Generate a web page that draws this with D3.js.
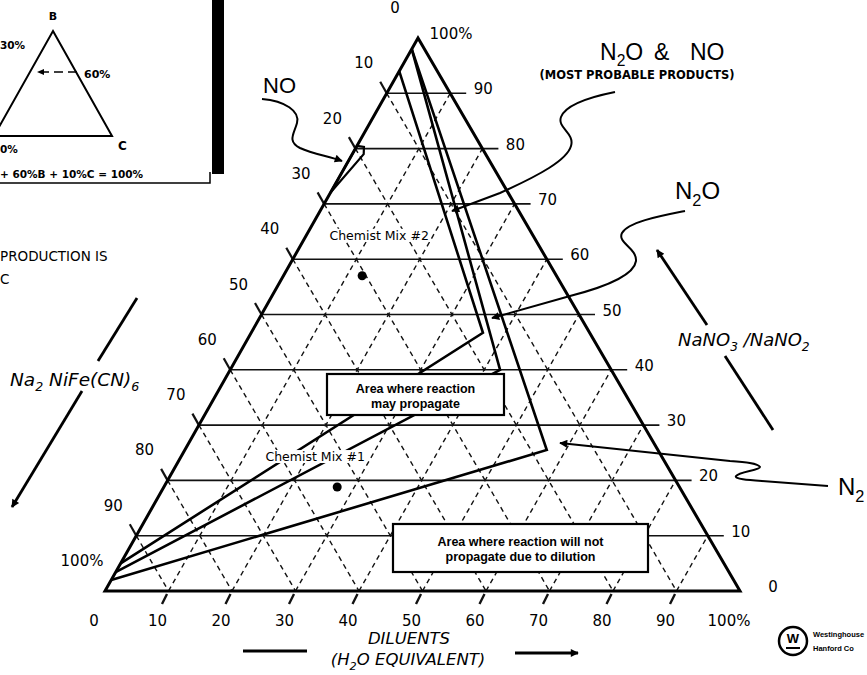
<!DOCTYPE html>
<html>
<head>
<meta charset="utf-8">
<script src="https://cdn.jsdelivr.net/npm/d3@7"></script>
<style>
body { margin: 0; background: #fff; }
svg { display: block; font-family: "DejaVu Sans", sans-serif; }
</style>
</head>
<body>
<svg id="chart" width="867" height="675"></svg>
<script>
// DATA (percent values)
// points are {d: diluents %, n: NaNO3/NaNO2 %}; Na2NiFe(CN)6 = 100 - d - n
var tickValues = [0, 10, 20, 30, 40, 50, 60, 70, 80, 90, 100];
var gridValues = [10, 20, 30, 40, 50, 60, 70, 80, 90];

// product boundaries
var lineA = [{d: 0, n: 94}, {d: 36.5, n: 46.7}, {d: 0, n: 5}];
var lineB = [{d: 0, n: 98}, {d: 42.5, n: 40}, {d: 0, n: 3.4}];
var lineC = [{d: 0, n: 98}, {d: 57, n: 25.5}, {d: 0, n: 2}];
var noRegion = [{d: 0, n: 80.5}, {d: 1.2, n: 80.3}, {d: 1.8, n: 79}, {d: 0, n: 72}];

var mixNames = ["Chemist Mix #2", "Chemist Mix #1"];
var mixDiluents = [12.4, 27.3];
var mixNitrate = [57, 18.8];

// SCALES
var xScale = d3.scaleLinear().domain([0, 100]).range([105, 740]);
var yScale = d3.scaleLinear().domain([0, 100]).range([591, 38]);
var apexShift = (418 - 105) / (740 - 105);

function px(p) { return xScale(p.d + p.n * apexShift); }
function py(p) { return yScale(p.n); }

var svg = d3.select("#chart");
var line = d3.line().x(px).y(py);

svg.append("defs").append("marker")
    .attr("id", "head")
    .attr("viewBox", "0 0 10 10")
    .attr("refX", 9).attr("refY", 5)
    .attr("markerWidth", 13).attr("markerHeight", 8)
    .attr("markerUnits", "userSpaceOnUse")
    .attr("orient", "auto")
    .append("path").attr("d", "M0,0 L10,5 L0,10 z");

//GRID
var grid = svg.append("g").attr("stroke", "#111").attr("fill", "none");

// constant Na2NiFe(CN)6, parallel to right edge
grid.selectAll("line.acon").data(gridValues).enter().append("line")
    .attr("class", "acon")
    .attr("x1", function(k) { return px({d: 0, n: 100 - k}); })
    .attr("y1", function(k) { return py({d: 0, n: 100 - k}); })
    .attr("x2", function(k) { return px({d: 100 - k, n: 0}); })
    .attr("y2", function(k) { return py({d: 100 - k, n: 0}); })
    .attr("stroke-width", 1.4)
    .attr("stroke-dasharray", "5,4");

// constant diluents, parallel to left edge
grid.selectAll("line.dcon").data(gridValues).enter().append("line")
    .attr("class", "dcon")
    .attr("x1", function(k) { return px({d: k, n: 0}); })
    .attr("y1", function(k) { return py({d: k, n: 0}); })
    .attr("x2", function(k) { return px({d: k, n: 100 - k}); })
    .attr("y2", function(k) { return py({d: k, n: 100 - k}); })
    .attr("stroke-width", 1.4)
    .attr("stroke-dasharray", "5,4");

// constant NaNO3/NaNO2, horizontal, running out as the right ticks
grid.selectAll("line.ncon").data(gridValues).enter().append("line")
    .attr("class", "ncon")
    .attr("x1", function(k) { return px({d: 0, n: k}); })
    .attr("y1", function(k) { return py({d: 0, n: k}); })
    .attr("x2", function(k) { return px({d: 100 - k, n: k}) + 16; })
    .attr("y2", function(k) { return py({d: 100 - k, n: k}); })
    .attr("stroke-width", 1.6);

// left ticks
grid.selectAll("line.lt").data(gridValues).enter().append("line")
    .attr("x1", function(k) { return px({d: 0, n: 100 - k}); })
    .attr("y1", function(k) { return py({d: 0, n: 100 - k}); })
    .attr("x2", function(k) { return px({d: 0, n: 100 - k}) - 6.5; })
    .attr("y2", function(k) { return py({d: 0, n: 100 - k}) - 11.5; })
    .attr("stroke-width", 2.2);

// bottom ticks
grid.selectAll("line.bt").data(gridValues).enter().append("line")
    .attr("x1", function(k) { return px({d: k, n: 0}) - 1.5; })
    .attr("y1", function(k) { return py({d: k, n: 0}) + 3; })
    .attr("x2", function(k) { return px({d: k, n: 0}) - 6.5; })
    .attr("y2", function(k) { return py({d: k, n: 0}) + 13; })
    .attr("stroke-width", 2.4);

// outline
svg.append("path")
    .datum([{d: 0, n: 0}, {d: 100, n: 0}, {d: 0, n: 100}])
    .attr("d", function(d) { return line(d) + "Z"; })
    .attr("fill", "none").attr("stroke", "#000")
    .attr("stroke-width", 3).attr("stroke-linejoin", "miter");

// BOUNDARIES
svg.selectAll("path.bound").data([lineA, lineB, lineC]).enter().append("path")
    .attr("class", "bound")
    .attr("d", line)
    .attr("fill", "none").attr("stroke", "#000")
    .attr("stroke-width", 2.6).attr("stroke-linejoin", "miter");

svg.append("path").datum(noRegion)
    .attr("d", function(d) { return line(d) + "Z"; })
    .attr("fill", "none").attr("stroke", "#000").attr("stroke-width", 2.2);

// AXIS LABELS
var labels = svg.append("g").attr("font-size", 15).attr("text-anchor", "middle")
    .attr("dominant-baseline", "central");

labels.selectAll("text.la").data(tickValues).enter().append("text")
    .attr("x", function(k) { return px({d: 0, n: 100 - k}) - 23; })
    .attr("y", function(k) { return py({d: 0, n: 100 - k}) - 30; })
    .text(function(k) { return k === 100 ? "100%" : k; });

labels.selectAll("text.lb").data(tickValues).enter().append("text")
    .attr("x", function(k) { return px({d: k, n: 0}) - 11; })
    .attr("y", function(k) { return py({d: k, n: 0}) + 30; })
    .text(function(k) { return k === 100 ? "100%" : k; });

labels.selectAll("text.lr").data(tickValues).enter().append("text")
    .attr("x", function(k) { return px({d: 100 - k, n: k}) + 33; })
    .attr("y", function(k) { return py({d: 100 - k, n: k}) - 4; })
    .text(function(k) { return k === 100 ? "100%" : k; });

// CHEMIST MIXES
var mixes = mixNames.map(function(name, i) { return {name: name, d: mixDiluents[i], n: mixNitrate[i]}; });
var mixLabelShift = [[17, -36], [-22, -26]];
var mixG = svg.selectAll("g.mix").data(mixes).enter().append("g");
mixG.append("rect").attr("fill", "#fff");
mixG.append("text")
    .attr("x", function(d, i) { return px(d) + mixLabelShift[i][0]; })
    .attr("y", function(d, i) { return py(d) + mixLabelShift[i][1]; })
    .attr("text-anchor", "middle")
    .attr("font-size", 12.5)
    .text(function(d) { return d.name; });
mixG.each(function() {
    var b = d3.select(this).select("text").node().getBBox();
    d3.select(this).select("rect")
        .attr("x", b.x - 2).attr("y", b.y + 1).attr("width", b.width + 4).attr("height", b.height - 2);
});
mixG.append("circle")
    .attr("cx", px).attr("cy", py).attr("r", 4.5).attr("fill", "#000");

// BOXES
var boxes = [
    {x: 327, y: 374, w: 177, h: 41, lines: ["Area where reaction", "may propagate"]},
    {x: 393, y: 524, w: 255, h: 48, lines: ["Area where reaction will not", "propagate due to dilution"]}
];
var boxG = svg.selectAll("g.box").data(boxes).enter().append("g");
boxG.append("rect")
    .attr("x", function(d) { return d.x; }).attr("y", function(d) { return d.y; })
    .attr("width", function(d) { return d.w; }).attr("height", function(d) { return d.h; })
    .attr("fill", "#fff").attr("stroke", "#000").attr("stroke-width", 2.2);
boxG.each(function(d) {
    var g = d3.select(this);
    d.lines.forEach(function(t, i) {
        g.append("text")
            .attr("x", d.x + d.w / 2)
            .attr("y", d.y + d.h / 2 - 2 + i * 15)
            .attr("text-anchor", "middle")
            .attr("font-family", "Liberation Sans, sans-serif")
            .attr("font-weight", "bold")
            .attr("font-size", 12.5)
            .text(t);
    });
});

// PRODUCT LABELS AND LEADERS
var ann = svg.append("g").attr("font-family", "Liberation Sans, sans-serif");

// text with subscripts: parts like [{t: "N"}, {sub: "2"}, {t: "O"}]
function chem(g, x, y, size, parts, italic) {
    var t = g.append("text").attr("x", x).attr("y", y).attr("font-size", size);
    if (italic) t.attr("font-style", "italic");
    parts.forEach(function(p) {
        if (p.sub) {
            t.append("tspan").attr("baseline-shift", -size * 0.28)
                .attr("font-size", size * 0.68).text(p.sub);
        } else {
            t.append("tspan").text(p.t);
        }
    });
    return t;
}

ann.append("text").attr("x", 263).attr("y", 93).attr("font-size", 22).text("NO");
chem(ann, 600, 60, 23, [{t: "N"}, {sub: "2"}, {t: "O"}]);
ann.append("text").attr("x", 654).attr("y", 60).attr("font-size", 23).text("&");
ann.append("text").attr("x", 690).attr("y", 60).attr("font-size", 23).text("NO");
ann.append("text").attr("x", 637).attr("y", 79).attr("text-anchor", "middle")
    .attr("font-family", "DejaVu Sans, sans-serif").attr("font-weight", "bold")
    .attr("font-size", 11.5).text("(MOST PROBABLE PRODUCTS)");
chem(ann, 675, 199, 24, [{t: "N"}, {sub: "2"}, {t: "O"}]);
chem(ann, 838, 495, 24, [{t: "N"}, {sub: "2"}]);

var leaders = [
    "M262,99 C285,101 300,111 297,123 C294,134 287,141 300,148 C313,154 328,156 342,161",
    "M615,92 C595,96 566,104 561,117 C557,128 575,133 571,146 C567,160 540,175 500,193 L452,211",
    "M685,211 C660,216 628,222 622,233 C617,243 637,248 636,261 C634,276 605,287 570,296 L492,318",
    "M828,486 L762,481 C748,480 734,479 736,476 C739,472 760,470 760,467 C758,463 745,462 730,461 L560,443"
];
ann.selectAll("path.lead").data(leaders).enter().append("path")
    .attr("d", function(d) { return d; })
    .attr("fill", "none").attr("stroke", "#000").attr("stroke-width", 2)
    .attr("marker-end", "url(#head)");

// AXIS TITLES
var ttl = svg.append("g").attr("font-family", "DejaVu Sans, sans-serif");
chem(ttl, 10, 386, 18.5, [{t: "Na"}, {sub: "2"}, {t: " NiFe(CN)"}, {sub: "6"}], true);
chem(ttl, 678, 346, 18, [{t: "NaNO"}, {sub: "3"}, {t: " /NaNO"}, {sub: "2"}], true);
ttl.append("text").attr("x", 409).attr("y", 644).attr("text-anchor", "middle")
    .attr("font-style", "italic").attr("font-size", 16.5).text("DILUENTS");
var h2o = chem(ttl, 408, 665, 16.5, [{t: "(H"}, {sub: "2"}, {t: "O EQUIVALENT)"}], true);
h2o.attr("text-anchor", "middle");

var arrows = [
    {x1: 137, y1: 298, x2: 98, y2: 361, head: false},
    {x1: 82, y1: 391, x2: 12, y2: 507, head: true},
    {x1: 725, y1: 356, x2: 773, y2: 430, head: false},
    {x1: 707, y1: 325, x2: 657, y2: 250, head: true},
    {x1: 243, y1: 651, x2: 307, y2: 651, head: false},
    {x1: 515, y1: 653, x2: 578, y2: 653, head: true}
];
ttl.selectAll("line.arr").data(arrows).enter().append("line")
    .attr("x1", function(d) { return d.x1; }).attr("y1", function(d) { return d.y1; })
    .attr("x2", function(d) { return d.x2; }).attr("y2", function(d) { return d.y2; })
    .attr("stroke", "#000").attr("stroke-width", 2.8)
    .attr("marker-end", function(d) { return d.head ? "url(#head)" : null; });

ttl.append("text").attr("x", 0).attr("y", 261).attr("font-size", 13.5).text("PRODUCTION IS");
ttl.append("text").attr("x", 0).attr("y", 284).attr("font-size", 13.5).text("C");

// INSET (how to read the diagram)
var inset = svg.append("g").attr("font-family", "DejaVu Sans, sans-serif").attr("font-weight", "bold");
inset.append("path").attr("d", "M53,31 L112,136 L-6,136 Z")
    .attr("fill", "none").attr("stroke", "#000").attr("stroke-width", 2);
inset.append("line").attr("x1", 77).attr("y1", 72).attr("x2", 38).attr("y2", 72)
    .attr("stroke", "#000").attr("stroke-width", 1.6).attr("stroke-dasharray", "9,5");
inset.append("path").attr("d", "M37,72 L44,69 L44,75 Z").attr("fill", "#000");
inset.append("text").attr("x", 53).attr("y", 20).attr("text-anchor", "middle").attr("font-size", 11).text("B");
inset.append("text").attr("x", 118).attr("y", 150).attr("font-size", 12).text("C");
inset.append("text").attr("x", 84).attr("y", 78).attr("font-size", 11).text("60%");
inset.append("text").attr("x", 0).attr("y", 49).attr("font-size", 10.5).text("30%");
inset.append("text").attr("x", 0).attr("y", 153).attr("font-size", 10.5).text("0%");
inset.append("text").attr("x", 0).attr("y", 178).attr("font-size", 10.5)
    .text("+ 60%B + 10%C = 100%");
inset.append("rect").attr("x", 212).attr("y", 0).attr("width", 12).attr("height", 174).attr("fill", "#000");
inset.append("path").attr("d", "M0,183 L210,183 L210,172")
    .attr("fill", "none").attr("stroke", "#000").attr("stroke-width", 1.5);

// LOGO
var logo = svg.append("g");
logo.append("circle").attr("cx", 793).attr("cy", 641).attr("r", 14)
    .attr("fill", "none").attr("stroke", "#000").attr("stroke-width", 2.5);
logo.append("text").attr("x", 793).attr("y", 643).attr("text-anchor", "middle")
    .attr("font-family", "Liberation Sans, sans-serif").attr("font-weight", "bold")
    .attr("font-size", 13).text("W");
logo.append("line").attr("x1", 786).attr("y1", 648).attr("x2", 800).attr("y2", 648)
    .attr("stroke", "#000").attr("stroke-width", 2);
logo.append("text").attr("x", 813).attr("y", 637).attr("font-family", "Liberation Sans, sans-serif")
    .attr("font-weight", "bold").attr("font-size", 7.5).text("Westinghouse");
logo.append("text").attr("x", 813).attr("y", 651).attr("font-family", "Liberation Sans, sans-serif")
    .attr("font-weight", "bold").attr("font-size", 7.5).text("Hanford Co");
</script>
</body>
</html>
